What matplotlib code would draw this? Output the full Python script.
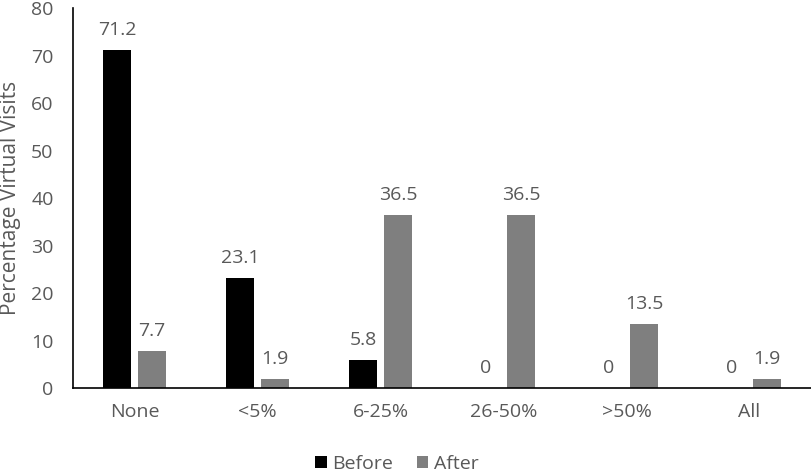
import matplotlib.pyplot as plt
import numpy as np

# data
categories = ['None', '<5%', '6-25%', '26-50%', '>50%', 'All']
before = [71.2, 23.1, 5.8, 0, 0, 0]
after = [7.7, 1.9, 36.5, 36.5, 13.5, 1.9]
y_ticks = [0, 10, 20, 30, 40, 50, 60, 70, 80]

TEXT = '#595959'
FS = 14
plt.rcParams['font.family'] = ['Open Sans', 'DejaVu Sans']
plt.rcParams['font.size'] = FS

fig = plt.figure(figsize=(8.12, 4.72), dpi=100)
ax = fig.add_axes([73 / 812, 1 - 388 / 472, 738 / 812, 380 / 472])

x = np.arange(len(categories))
w = 0.227
off = 0.142
b1 = ax.bar(x - off, before, width=w, color='black', label='Before')
b2 = ax.bar(x + off, after, width=w, color='#7f7f7f', label='After')

for bars, vals in ((b1, before), (b2, after)):
    for rect, v in zip(bars, vals):
        ax.annotate(f'{v:g}', (rect.get_x() + rect.get_width() / 2, v),
                    xytext=(0, 8), textcoords='offset points',
                    ha='center', va='bottom', color=TEXT, fontsize=FS)

ax.set_xlim(-0.5, len(categories) - 0.5)
ax.set_ylim(0, 80)
ax.set_yticks(y_ticks)
ax.set_xticks(x)
ax.set_xticklabels(categories)
ax.tick_params(axis='both', length=0, colors=TEXT, labelsize=FS)
ax.tick_params(axis='x', pad=11)
ax.tick_params(axis='y', pad=14)
for s in ('top', 'right'):
    ax.spines[s].set_visible(False)
for s in ('left', 'bottom'):
    ax.spines[s].set_color('black')
    ax.spines[s].set_linewidth(1.2)
ax.set_ylabel('Percentage Virtual Visits', color=TEXT, fontsize=15)
ax.yaxis.set_label_coords(-0.071, 0.5)

fig.legend(handles=[b1, b2], loc='center', bbox_to_anchor=(0.489, 1 - 464 / 472), ncol=2,
           frameon=False, fontsize=FS, labelcolor=TEXT, handlelength=0.6,
           handleheight=0.6, handletextpad=0.3, columnspacing=1.2)

plt.savefig('out.png', dpi=100)
